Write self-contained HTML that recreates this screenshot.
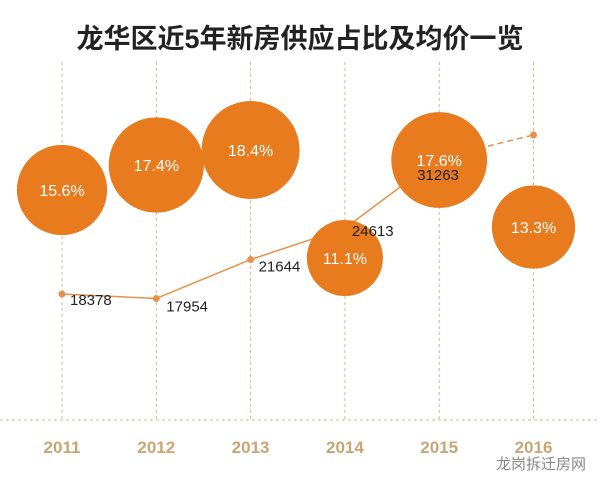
<!DOCTYPE html>
<html><head><meta charset="utf-8">
<style>
body{margin:0;background:#fff;width:600px;height:487px;overflow:hidden;font-family:"Liberation Sans","Noto Sans CJK SC",sans-serif;}
svg{display:block}
</style></head>
<body>
<svg id="chart" width="600" height="487" viewBox="0 0 600 487" xmlns="http://www.w3.org/2000/svg">
<text x="300" y="48" text-anchor="middle" font-size="27" font-weight="bold" fill="#222" font-family="'Liberation Sans','Noto Sans CJK SC',sans-serif">龙华区近5年新房供应占比及均价一览</text>
<line x1="0" y1="420" x2="600" y2="420" stroke="#d9b48a" stroke-width="1" stroke-dasharray="3,3"/>
<g id="grid"></g><g id="line"></g><g id="bubbles"></g><g id="labels"></g>
<text x="586" y="469" text-anchor="end" font-size="15" fill="#888" font-family="'Liberation Sans','Noto Sans CJK SC',sans-serif">龙岗拆迁房网</text>
</svg>
<script>
const years=["2011","2012","2013","2014","2015","2016"];
const sharePct=[15.6,17.4,18.4,11.1,17.6,13.3];
const bubbleY=[190,165,150,258,160,227];
const prices=[18378,17954,21644,24613,31263,33450];
const priceLabels=["18378","17954","21644","24613","31263",""];
const NS="http://www.w3.org/2000/svg";
function mk(t,a,p){const e=document.createElementNS(NS,t);for(const k in a)e.setAttribute(k,a[k]);p.appendChild(e);return e;}
const xS=i=>62+i*94.3;
const yS=v=>294-(v-18378)*0.01055;
const rS=v=>11.42*Math.sqrt(v);
const grid=document.getElementById('grid'),bub=document.getElementById('bubbles'),ln=document.getElementById('line'),lab=document.getElementById('labels');
const labOff=[[8,11,'start'],[10,13,'start'],[8,12,'start'],[7,8,'start'],[-22,22,'start']];
years.forEach((y,i)=>{
 const x=xS(i);
 const g=mk('line',{x1:x,y1:62,x2:x,y2:420,stroke:'#d9b48a','stroke-dasharray':'3,3'},grid);
 
 
 const t=mk('text',{x:x,y:453,'text-anchor':'middle','font-size':'17','font-weight':'bold',fill:'#c9a574'},grid);
 t.textContent=y;
 
 
 const c=mk('circle',{cx:x,cy:bubbleY[i],r:rS(sharePct[i]),fill:'#e87b1e'},bub);
 
 
 const bt=mk('text',{x:x,y:bubbleY[i]+6,'text-anchor':'middle','font-size':'16',fill:'#fff'},bub);
 bt.textContent=sharePct[i].toFixed(1)+'%';
 
 
});
for(let i=0;i<prices.length-1;i++){
 const l=mk('line',{x1:xS(i),y1:yS(prices[i]),x2:xS(i+1),y2:yS(prices[i+1]),stroke:'#e8914a','stroke-width':'1.5','stroke-dasharray':i===prices.length-2?'6,4':'none'},ln);
 
 
}
prices.forEach((p,i)=>{
 const c=mk('circle',{cx:xS(i),cy:yS(p),r:3.5,fill:'#e8914a'},ln);
 
 
 if(priceLabels[i]){
  const o=labOff[i];
  const t=mk('text',{x:xS(i)+o[0],y:yS(p)+o[1],'text-anchor':o[2],'font-size':'15',fill:'#222'},lab);
  t.textContent=priceLabels[i];
  
  
 }
});
</script>
</body></html>
